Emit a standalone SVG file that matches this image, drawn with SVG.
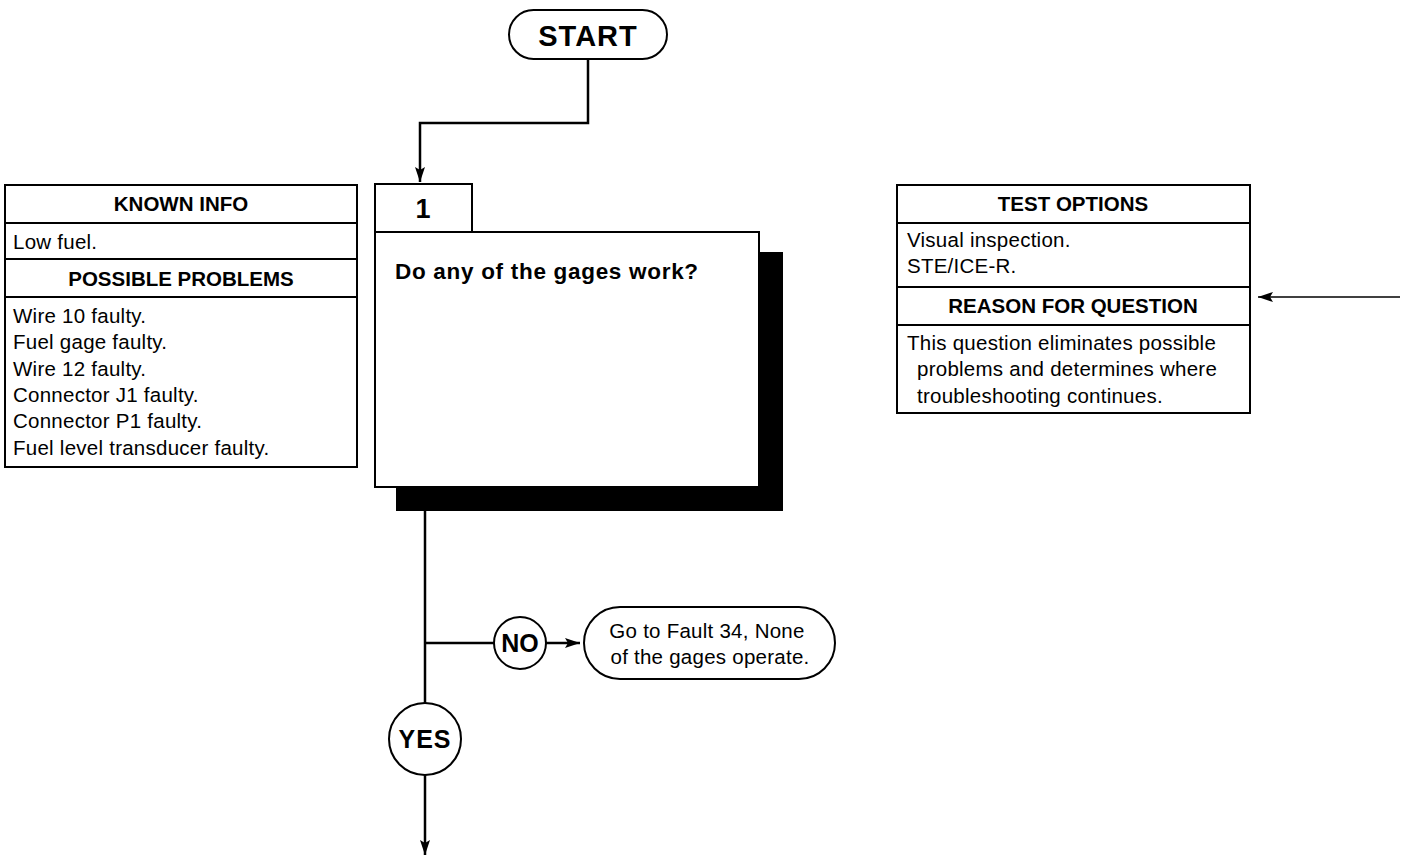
<svg xmlns="http://www.w3.org/2000/svg" width="1404" height="857" viewBox="0 0 1404 857">
  <defs>
    <style>
      .t { font-family: "Liberation Sans", Arial, sans-serif; fill: #000; }
      .b { font-weight: bold; }
      .body { font-size: 20.5px; letter-spacing: 0.25px; }
      .head { font-size: 20.5px; font-weight: bold; }
      .box { fill: #fff; stroke: #000; stroke-width: 2; }
      .rule { stroke: #000; stroke-width: 2; fill: none; }
      .wire { stroke: #000; stroke-width: 2.5; fill: none; }
      .thin { stroke: #000; stroke-width: 1.5; fill: none; }
    </style>
    <marker id="arr" markerUnits="userSpaceOnUse" markerWidth="16" markerHeight="12" viewBox="0 0 16 12" refX="15" refY="6" orient="auto">
      <path d="M0,1 L15,6 L0,11 L3,6 z" fill="#000"/>
    </marker>
  </defs>
  <rect width="1404" height="857" fill="#fff"/>

  <!-- connectors -->
  <g id="connectors">
    <path class="wire" d="M588,59 V123 H420 V182" marker-end="url(#arr)"/>
    <path class="wire" d="M425,511 V703"/>
    <path class="wire" d="M425,643 H494"/>
    <path class="wire" d="M546,643 H580" marker-end="url(#arr)"/>
    <path class="wire" d="M425,775 V855" marker-end="url(#arr)"/>
    <path class="thin" d="M1400,297 H1258" marker-end="url(#arr)"/>
  </g>

  <!-- start terminal -->
  <g id="start">
    <rect class="box" x="509" y="10" width="158" height="49" rx="24.5"/>
    <text class="t b" x="588" y="46" font-size="29" letter-spacing="1" text-anchor="middle">START</text>
  </g>

  <!-- step 1 question -->
  <g id="step1">
    <rect x="396" y="252" width="387" height="259" fill="#000"/>
    <rect class="box" x="375" y="232" width="384" height="255"/>
    <rect class="box" x="375" y="184" width="97" height="48"/>
    <text class="t b" x="423" y="218" font-size="27" text-anchor="middle">1</text>
    <text class="t b" x="395" y="279" font-size="22.5" letter-spacing="0.7">Do any of the gages work?</text>
  </g>

  <!-- known info / possible problems -->
  <g id="known-info">
    <rect class="box" x="5" y="185" width="352" height="282"/>
    <line class="rule" x1="5" y1="223" x2="357" y2="223"/>
    <line class="rule" x1="5" y1="259" x2="357" y2="259"/>
    <line class="rule" x1="5" y1="297" x2="357" y2="297"/>
    <text class="t head" x="181" y="211" text-anchor="middle">KNOWN INFO</text>
    <text class="t body" x="13" y="249">Low fuel.</text>
    <text class="t head" x="181" y="286" text-anchor="middle">POSSIBLE PROBLEMS</text>
    <text class="t body">
      <tspan x="13" y="323">Wire 10 faulty.</tspan>
      <tspan x="13" y="349">Fuel gage faulty.</tspan>
      <tspan x="13" y="376">Wire 12 faulty.</tspan>
      <tspan x="13" y="402">Connector J1 faulty.</tspan>
      <tspan x="13" y="428">Connector P1 faulty.</tspan>
      <tspan x="13" y="455">Fuel level transducer faulty.</tspan>
    </text>
  </g>

  <!-- test options / reason for question -->
  <g id="test-options">
    <rect class="box" x="897" y="185" width="353" height="228"/>
    <line class="rule" x1="897" y1="223" x2="1250" y2="223"/>
    <line class="rule" x1="897" y1="287" x2="1250" y2="287"/>
    <line class="rule" x1="897" y1="325" x2="1250" y2="325"/>
    <text class="t head" x="1073" y="211" text-anchor="middle">TEST OPTIONS</text>
    <text class="t body">
      <tspan x="907" y="247">Visual inspection.</tspan>
      <tspan x="907" y="273">STE/ICE-R.</tspan>
    </text>
    <text class="t head" x="1073" y="313" text-anchor="middle">REASON FOR QUESTION</text>
    <text class="t body">
      <tspan x="907" y="350">This question eliminates possible</tspan>
      <tspan x="917" y="376">problems and determines where</tspan>
      <tspan x="917" y="403">troubleshooting continues.</tspan>
    </text>
  </g>

  <!-- NO branch -->
  <g id="no">
    <circle class="box" cx="520" cy="643" r="26"/>
    <text class="t b" x="520" y="652" font-size="25" text-anchor="middle">NO</text>
  </g>
  <g id="fault34">
    <rect class="box" x="584" y="607" width="251" height="72" rx="36"/>
    <text class="t body" text-anchor="middle">
      <tspan x="710" y="638">Go to Fault 34, None</tspan>
      <tspan x="710" y="664">of the gages operate.</tspan>
    </text>
  </g>

  <!-- YES branch -->
  <g id="yes">
    <circle class="box" cx="425" cy="739" r="36"/>
    <text class="t b" x="425" y="748" font-size="25" letter-spacing="1" text-anchor="middle">YES</text>
  </g>
</svg>
